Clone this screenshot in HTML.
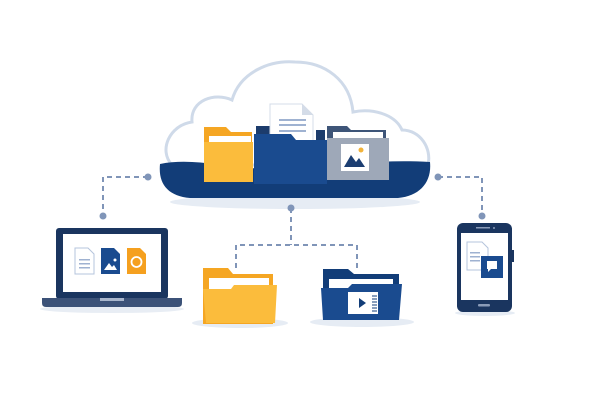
<!DOCTYPE html>
<html><head><style>html,body{margin:0;padding:0;background:#fff;width:612px;height:408px;overflow:hidden}</style></head>
<body>
<svg width="612" height="408" viewBox="0 0 612 408" xmlns="http://www.w3.org/2000/svg">
<!-- cloud outline -->
<path d="M172 165 C158 150 170 125 192 122 C190 100 215 92 232 100 C240 72 270 60 295 62 C325 62 350 80 353 112 C372 108 395 114 402 130 C420 130 432 148 428 165 Z" fill="#fff" stroke="#cfdae9" stroke-width="3"/>
<!-- shadow under base -->
<ellipse cx="295" cy="202" rx="125" ry="7" fill="#e6ecf4"/>
<!-- base -->
<path d="M160 164 C190 158 220 166 250 168 C300 172 360 158 430 162 C432 182 420 196 398 198 L190 198 C168 196 158 184 160 164 Z" fill="#123d78"/>
<!-- gray folder -->
<path d="M327 126 h20 l4 4 h35 v48 h-59z" fill="#3e5578"/>
<rect x="333" y="132" width="50" height="40" fill="#fff"/>
<rect x="327" y="138" width="62" height="42" fill="#9ea8b8"/>
<rect x="341" y="144" width="28" height="27" fill="#fff"/>
<polygon points="344,167 351,155 356,162 359,158 365,167" fill="#1c3e72"/>
<circle cx="361" cy="150" r="2.5" fill="#f2b33a"/>
<!-- navy back tab -->
<rect x="256" y="126" width="18" height="10" fill="#1c3c6c"/>
<!-- document -->
<path d="M270 104 h32 l11 11 v30 h-43z" fill="#fff" stroke="#d4dce8" stroke-width="1"/>
<path d="M302 104 v11 h11z" fill="#d4dce8"/>
<rect x="279" y="119" width="27" height="2" fill="#9fb2d1"/>
<rect x="279" y="124" width="27" height="2" fill="#9fb2d1"/>
<rect x="279" y="130" width="27" height="2" fill="#9fb2d1"/>
<rect x="316" y="130" width="9" height="10" fill="#1c3c6c"/>
<!-- yellow folder -->
<path d="M204 127 h22 l5 5 h21 v50 h-48z" fill="#f5a623"/>
<rect x="209" y="136" width="42" height="10" fill="#fff"/>
<rect x="204" y="142" width="49" height="40" fill="#fbbc3c"/>
<!-- navy folder front -->
<path d="M254 134 h37 l5 6 h31 v44 h-73z" fill="#1a4b8f"/>
<!-- dashed connectors -->
<g stroke="#8095b8" stroke-width="2" stroke-dasharray="5,4" fill="none">
<path d="M148 177 H103 V216"/>
<path d="M438 177 H482 V216"/>
<path d="M291 208 V245 M236 268 V245 H357 V268"/>
</g>
<g fill="#8095b8">
<circle cx="148" cy="177" r="3.5"/><circle cx="103" cy="216" r="3.5"/>
<circle cx="438" cy="177" r="3.5"/><circle cx="482" cy="216" r="3.5"/>
<circle cx="291" cy="208" r="3.5"/>
</g>
<!-- laptop -->
<ellipse cx="112" cy="309" rx="72" ry="4" fill="#e8edf4"/>
<rect x="56" y="228" width="112" height="71" rx="3" fill="#1a355f"/>
<rect x="63" y="234" width="98" height="58" fill="#fff"/>
<path d="M42 298 h140 v5 q0 4 -4 4 h-132 q-4 0 -4 -4z" fill="#3c5278"/>
<rect x="100" y="298" width="24" height="3" fill="#a9b6cc"/>
<path d="M75 248 h13 l6 6 v20 h-19z" fill="#fff" stroke="#b5c4dc" stroke-width="1"/>
<rect x="79" y="259" width="11" height="1.5" fill="#9fb2d1"/><rect x="79" y="263" width="11" height="1.5" fill="#9fb2d1"/><rect x="79" y="267" width="11" height="1.5" fill="#9fb2d1"/>
<path d="M101 248 h13 l6 6 v20 h-19z" fill="#1a4b8f"/>
<polygon points="104,270 109,263 112,267 114,265 117,270" fill="#fff"/><circle cx="115" cy="260" r="1.5" fill="#fff"/>
<path d="M127 248 h13 l6 6 v20 h-19z" fill="#f5a01f"/>
<circle cx="136.5" cy="262" r="5" fill="none" stroke="#fff" stroke-width="1.8"/>
<!-- yellow folder bottom -->
<ellipse cx="240" cy="323" rx="48" ry="5" fill="#e6ecf4"/>
<path d="M203 268 h25 l5 6 h40 v50 h-70z" fill="#f5a623"/>
<rect x="209" y="278" width="60" height="14" fill="#fff"/>
<path d="M203 289 h28 l3 -4 h43 l-2 38 h-69z" fill="#fbbc3c"/>
<!-- navy folder bottom -->
<ellipse cx="362" cy="322" rx="52" ry="5" fill="#e6ecf4"/>
<path d="M323 269 h25 l6 5 h45 v46 h-76z" fill="#123d78"/>
<rect x="329" y="279" width="64" height="12" fill="#fff"/>
<path d="M321 288 h27 l4 -4 h50 l-3 36 h-76z" fill="#1a4b8f"/>
<rect x="348" y="292" width="30" height="22" fill="#fff"/>
<polygon points="359,298 366,303 359,308" fill="#123d78"/>
<g stroke="#123d78" stroke-width="1"><path d="M372 296 h5 M372 299 h5 M372 302 h5 M372 305 h5 M372 308 h5 M372 311 h5"/></g>
<!-- phone -->
<ellipse cx="485" cy="313" rx="30" ry="3" fill="#e6ecf4"/>
<rect x="457" y="223" width="55" height="89" rx="6" fill="#1a355f"/>
<rect x="511" y="250" width="3" height="12" fill="#1a355f"/>
<rect x="461" y="233" width="47" height="67" fill="#fff"/>
<rect x="476" y="227" width="14" height="1.5" fill="#8a9bb8"/><circle cx="494" cy="228" r="1" fill="#8a9bb8"/>
<rect x="478" y="304" width="12" height="2.5" rx="1" fill="#8a9bb8"/>
<path d="M467 242 h15 l6 6 v22 h-21z" fill="#fff" stroke="#b5c4dc" stroke-width="1"/>
<rect x="470" y="252" width="10" height="1.5" fill="#9fb2d1"/><rect x="470" y="256" width="10" height="1.5" fill="#9fb2d1"/><rect x="470" y="260" width="10" height="1.5" fill="#9fb2d1"/>
<rect x="481" y="256" width="22" height="22" fill="#1a4b8f"/>
<path d="M487 261 h10 v8 h-6 l-3 3 v-3 h-1z" fill="#fff"/>
</svg>
</body></html>
